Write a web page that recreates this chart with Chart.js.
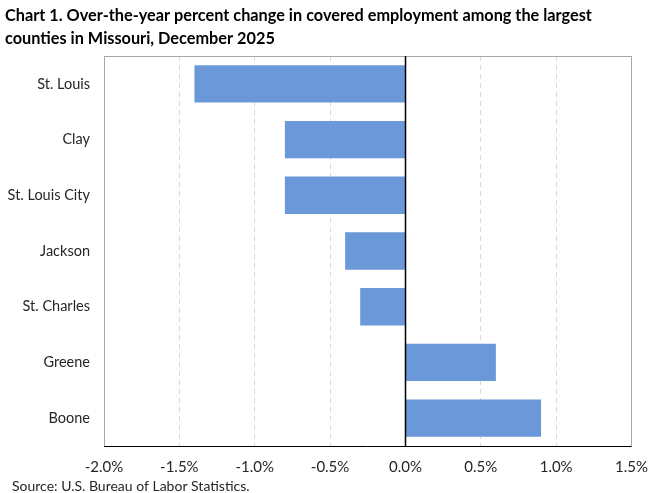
<!DOCTYPE html>
<html>
<head>
<meta charset="utf-8">
<script src="https://cdn.jsdelivr.net/npm/chart.js@4/dist/chart.umd.min.js"></script>
<style>
  html, body { margin: 0; padding: 0; background: #fff; }
  #wrap { width: 660px; height: 493px; position: relative; }
</style>
</head>
<body>
<div id="wrap"><canvas id="c" width="660" height="493"></canvas></div>
<script>
const titleLines = [
  "Chart 1. Over-the-year percent change in covered employment among the largest",
  "counties in Missouri, December 2025"
];
const sourceText = "Source: U.S. Bureau of Labor Statistics.";
const counties = ["St. Louis", "Clay", "St. Louis City", "Jackson", "St. Charles", "Greene", "Boone"];
const changes = [-1.4, -0.8, -0.8, -0.4, -0.3, 0.6, 0.9];
const xMin = -2.0, xMax = 1.5, xStep = 0.5;

const FONT = "Lato, 'Open Sans', 'Liberation Sans', sans-serif";

const decorPlugin = {
  id: 'decor',
  beforeDraw(chart) {
    const ctx = chart.ctx;
    ctx.save();
    ctx.fillStyle = '#fff';
    ctx.fillRect(0, 0, chart.width, chart.height);
    ctx.restore();
  },
  afterDatasetsDraw(chart) {
    const { ctx, chartArea: a, scales } = chart;
    ctx.save();
    ctx.strokeStyle = '#a6a6a6';
    ctx.lineWidth = 1;
    ctx.strokeRect(Math.round(a.left) + 0.5, Math.round(a.top) + 0.5, Math.round(a.right - a.left) - 1, Math.round(a.bottom - a.top));
    ctx.strokeStyle = '#000';
    ctx.beginPath();
    ctx.moveTo(a.left, Math.round(a.bottom) + 0.5);
    ctx.lineTo(a.right, Math.round(a.bottom) + 0.5);
    ctx.stroke();
    const x0 = Math.round(scales.x.getPixelForValue(0)) + 0.5;
    ctx.beginPath();
    ctx.lineWidth = 1.5;
    ctx.moveTo(x0, a.top);
    ctx.lineTo(x0, a.bottom);
    ctx.stroke();
    ctx.restore();
  },
  afterDraw(chart) {
    const ctx = chart.ctx;
    ctx.save();
    ctx.fillStyle = '#000';
    ctx.textBaseline = 'alphabetic';
    ctx.textAlign = 'left';
    ctx.font = "bold 16.3px " + FONT;
    ctx.fillText(titleLines[0], 5, 21);
    ctx.fillText(titleLines[1], 5, 44);
    ctx.font = "14px " + FONT;
    ctx.fillStyle = '#262626';
    ctx.fillText(sourceText, 12, 491);
    ctx.restore();
  }
};

new Chart(document.getElementById('c'), {
  type: 'bar',
  data: {
    labels: counties,
    datasets: [{
      data: changes,
      backgroundColor: '#6a98d8',
      borderWidth: 0,
      categoryPercentage: 0.67,
      barPercentage: 1.0
    }]
  },
  options: {
    indexAxis: 'y',
    responsive: false,
    animation: false,
    devicePixelRatio: 1,
    layout: { padding: { top: 56, right: 26, bottom: 0, left: 0 } },
    plugins: {
      legend: { display: false },
      tooltip: { enabled: false },
      title: { display: false }
    },
    scales: {
      x: {
        min: xMin, max: xMax,
        ticks: {
          stepSize: xStep,
          color: '#262626',
          font: { family: FONT, size: 15 },
          padding: 12,
          callback: v => v.toFixed(1) + '%'
        },
        grid: { color: '#d9d9d9', drawTicks: false, lineWidth: 1 },
        border: { display: false, dash: [5, 4] },
        afterFit(s) { s.height = 47; }
      },
      y: {
        ticks: {
          color: '#262626',
          font: { family: FONT, size: 14.5 },
          padding: 14
        },
        grid: { display: false, drawTicks: false },
        border: { display: false },
        afterFit(s) { s.width = 104; }
      }
    }
  },
  plugins: [decorPlugin]
});
</script>
</body>
</html>
